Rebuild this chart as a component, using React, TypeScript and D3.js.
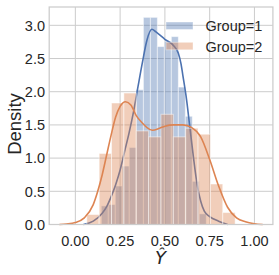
import React from "react";
import * as d3 from "d3";

const g1Edges = [0.145, 0.184, 0.223, 0.262, 0.301, 0.34, 0.38, 0.419, 0.458, 0.497, 0.536, 0.575, 0.614, 0.653, 0.692, 0.731];
const g1Heights = [0.28, 0.3, 0.58, 0.88, 1.16, 2.03, 3.12, 3.12, 2.68, 2.76, 2.83, 2.07, 1.63, 0.65, 0.16];

const g2Edges = [0.064, 0.133, 0.202, 0.271, 0.34, 0.409, 0.478, 0.547, 0.616, 0.685, 0.754, 0.823, 0.892];
const g2Heights = [0.15, 1.07, 1.83, 1.98, 1.41, 1.32, 1.66, 1.32, 1.45, 1.36, 0.61, 0.18];

const g1KdeX = [0.045, 0.1, 0.15, 0.175, 0.2, 0.225, 0.25, 0.275, 0.3, 0.325, 0.35, 0.375, 0.4, 0.427, 0.45, 0.5, 0.55, 0.575, 0.59, 0.6, 0.62, 0.64, 0.66, 0.68, 0.7, 0.72, 0.75, 0.8, 0.85];
const g1KdeY = [0.0, 0.05, 0.17, 0.27, 0.42, 0.6, 0.82, 1.1, 1.38, 1.7, 2.08, 2.45, 2.78, 2.94, 2.9, 2.79, 2.69, 2.58, 2.42, 2.25, 1.9, 1.45, 1.0, 0.6, 0.35, 0.2, 0.12, 0.05, 0.0];

const g2KdeX = [-0.089, -0.05, 0.0, 0.05, 0.1, 0.125, 0.15, 0.175, 0.2, 0.225, 0.25, 0.28, 0.31, 0.34, 0.37, 0.4, 0.43, 0.47, 0.5, 0.55, 0.6, 0.65, 0.7, 0.75, 0.8, 0.85, 0.9, 0.95, 1.0, 1.046];
const g2KdeY = [0.0, 0.008, 0.03, 0.1, 0.3, 0.5, 0.75, 1.05, 1.35, 1.62, 1.78, 1.85, 1.8, 1.64, 1.54, 1.46, 1.42, 1.45, 1.48, 1.5, 1.5, 1.46, 1.32, 0.98, 0.58, 0.26, 0.1, 0.04, 0.012, 0.0];

const xTicks = [0, 0.25, 0.5, 0.75, 1.0];
const xTickLabels = ["0.00", "0.25", "0.50", "0.75", "1.00"];
const yTicks = [0, 0.5, 1.0, 1.5, 2.0, 2.5, 3.0];
const yTickLabels = ["0.0", "0.5", "1.0", "1.5", "2.0", "2.5", "3.0"];
const groups = ["Group=1", "Group=2"];
const colors = ["#4C72B0", "#DD8452"];

const W = 279, H = 275;
const left = 49.2, right = 272.9, top = 7, bottom = 224.5;
const FONT = "'Liberation Sans', Arial, sans-serif";
const TXT = "#262626";

export default function App() {
  const x = d3.scaleLinear().domain([-0.146, 1.103]).range([left, right]);
  const y = d3.scaleLinear().domain([0, 3.276]).range([bottom, top]);
  const line = d3.line<[number, number]>().x(d => x(d[0])).y(d => y(d[1])).curve(d3.curveMonotoneX);

  const hist = (edges: number[], heights: number[], color: string, key: string) =>
    heights.map((h, i) => (
      <rect key={key + i} x={x(edges[i])} y={y(h)} width={x(edges[i + 1]) - x(edges[i])} height={y(0) - y(h)}
        fill={color} fillOpacity={0.4} stroke="#ffffff" strokeOpacity={0.5} strokeWidth={1} />
    ));

  const kde1 = line(g1KdeX.map((v, i) => [v, g1KdeY[i]] as [number, number])) || "";
  const kde2 = line(g2KdeX.map((v, i) => [v, g2KdeY[i]] as [number, number])) || "";

  return (
    <div>
      <style>{`body{margin:0}`}</style>
      <svg width={W} height={H} style={{ display: "block", background: "#fff" }} fontFamily={FONT}>
        <rect x={left} y={top} width={right - left} height={bottom - top} fill="#fff" />
        {xTicks.map((t, i) => (
          <line key={"gx" + i} x1={x(t)} x2={x(t)} y1={top} y2={bottom} stroke="#cccccc" strokeWidth={1} />
        ))}
        {yTicks.map((t, i) => (
          <line key={"gy" + i} x1={left} x2={right} y1={y(t)} y2={y(t)} stroke="#cccccc" strokeWidth={1} />
        ))}
        {hist(g1Edges, g1Heights, colors[0], "a")}
        <path d={kde1} fill="none" stroke={colors[0]} strokeWidth={1.6} />
        {hist(g2Edges, g2Heights, colors[1], "b")}
        <path d={kde2} fill="none" stroke={colors[1]} strokeWidth={1.6} />
        <rect x={left} y={top} width={right - left} height={bottom - top} fill="none" stroke="#cccccc" strokeWidth={1.25} />
        {xTicks.map((t, i) => (
          <text key={"xt" + i} x={x(t)} y={246} textAnchor="middle" fontSize={14.5} fill={TXT}>{xTickLabels[i]}</text>
        ))}
        {yTicks.map((t, i) => (
          <text key={"yt" + i} x={45} y={y(t)} dy="0.36em" textAnchor="end" fontSize={14.5} fill={TXT}>{yTickLabels[i]}</text>
        ))}
        <text transform={`translate(21,124) rotate(-90)`} textAnchor="middle" fontSize={18.5} fill={TXT}>Density</text>
        <text x={160.5} y={264} textAnchor="middle" fontSize={18} fontStyle="italic" fontFamily="'DejaVu Sans', sans-serif" fill={TXT}>Ŷ</text>
        {groups.map((g, i) => (
          <g key={"lg" + i}>
            <rect x={166} y={22 + i * 20.3} width={27} height={7.5} fill={colors[i]} fillOpacity={0.4} stroke="#fff" strokeOpacity={0.4} />
            <text x={205.5} y={31.3 + i * 20.5} fontSize={14.5} fill={TXT}>{g}</text>
          </g>
        ))}
      </svg>
    </div>
  );
}
